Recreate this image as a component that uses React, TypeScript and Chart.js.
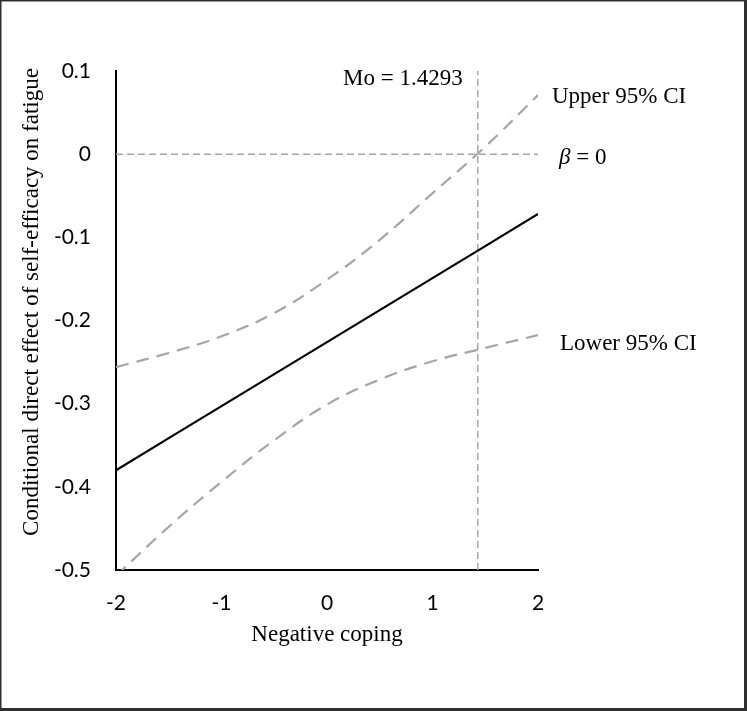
import React, { useEffect, useRef } from "react";
import { Chart, registerables } from "chart.js";

Chart.register(...registerables);

// ---- data ----
const X_VALUES = [-2, -1.5, -1, -0.5, 0, 0.5, 1, 1.5, 2];
const EFFECT = [-0.38, -0.3415, -0.303, -0.2645, -0.226, -0.1875, -0.149, -0.1105, -0.072];
const UPPER_CI = [-0.256, -0.239, -0.219, -0.191, -0.151, -0.103, -0.047, 0.009, 0.071];
const LOWER_CI = [-0.507, -0.448, -0.394, -0.344, -0.301, -0.271, -0.249, -0.233, -0.2175];
const MO = 1.4293;
const BETA_ZERO = 0;
const X_TICKS = [-2, -1, 0, 1, 2];
const Y_TICKS = [-0.5, -0.4, -0.3, -0.2, -0.1, 0, 0.1];
const X_MIN = -2;
const X_MAX = 2;
const Y_MIN = -0.5;
const Y_MAX = 0.1;

const X_TITLE = "Negative coping";
const Y_TITLE = "Conditional direct effect of self-efficacy on fatigue";
const MO_LABEL = "Mo = 1.4293";
const UPPER_LABEL = "Upper 95% CI";
const LOWER_LABEL = "Lower 95% CI";

const W = 747;
const H = 711;
const SERIF = '"Liberation Serif", "Times New Roman", serif';
const SANS = 'Lato, "Liberation Sans", sans-serif';
const GRAY = "#a6a6a6";

const pts = (ys: number[]) => X_VALUES.map((x, i) => ({ x, y: ys[i] }));

const annotate = {
  id: "annotate",
  afterDraw(chart: any) {
    const { ctx, chartArea, scales } = chart;
    const x = scales.x;
    const y = scales.y;
    ctx.save();
    ctx.fillStyle = "#000";
    ctx.textBaseline = "alphabetic";
    ctx.font = `23px ${SERIF}`;

    ctx.textAlign = "right";
    ctx.fillText(MO_LABEL, x.getPixelForValue(MO) - 15, y.getPixelForValue(Y_MAX) + 14);

    ctx.textAlign = "left";
    ctx.fillText(UPPER_LABEL, chartArea.right + 14, y.getPixelForValue(UPPER_CI[UPPER_CI.length - 1]) + 8);
    ctx.fillText(LOWER_LABEL, chartArea.right + 22, y.getPixelForValue(LOWER_CI[LOWER_CI.length - 1]) + 15);

    const bx = chartArea.right + 21;
    const by = y.getPixelForValue(BETA_ZERO) + 10;
    ctx.font = `italic 23px ${SERIF}`;
    ctx.fillText("β", bx, by);
    const bw = ctx.measureText("β").width;
    ctx.font = `23px ${SERIF}`;
    ctx.fillText(" = 0", bx + bw, by);

    // y-axis title
    ctx.save();
    ctx.translate(chartArea.left - 78.5, (chartArea.top + chartArea.bottom) / 2 - 18.5);
    ctx.rotate(-Math.PI / 2);
    ctx.textAlign = "center";
    ctx.fillText(Y_TITLE, 0, 0);
    ctx.restore();

    // outer frame
    ctx.fillStyle = "#2f2f2f";
    ctx.fillRect(0, 0, W, 1.5);
    ctx.fillRect(0, 0, 1.5, H);
    ctx.fillRect(W - 3, 0, 3, H);
    ctx.fillRect(0, H - 3, W, 3);
    ctx.restore();
  },
};

export default function App() {
  const ref = useRef<HTMLCanvasElement>(null);

  useEffect(() => {
    if (!ref.current) return;
    const chart = new Chart(ref.current, {
      type: "scatter",
      data: {
        datasets: [
          {
            label: "Effect",
            data: pts(EFFECT),
            showLine: true,
            borderColor: "#000",
            borderWidth: 2.2,
            pointRadius: 0,
          },
          {
            label: "Upper 95% CI",
            data: pts(UPPER_CI),
            showLine: true,
            borderColor: GRAY,
            borderWidth: 2.2,
            borderDash: [13, 8],
            tension: 0.4,
            pointRadius: 0,
          },
          {
            label: "Lower 95% CI",
            data: pts(LOWER_CI),
            showLine: true,
            borderColor: GRAY,
            borderWidth: 2.2,
            borderDash: [13, 8],
            tension: 0.4,
            pointRadius: 0,
          },
          {
            label: "beta = 0",
            data: [
              { x: X_MIN, y: BETA_ZERO },
              { x: X_MAX, y: BETA_ZERO },
            ],
            showLine: true,
            borderColor: GRAY,
            borderWidth: 1.5,
            borderDash: [7, 4],
            pointRadius: 0,
          },
          {
            label: "Mo",
            data: [
              { x: MO, y: Y_MIN },
              { x: MO, y: Y_MAX },
            ],
            showLine: true,
            borderColor: GRAY,
            borderWidth: 1.5,
            borderDash: [7, 4],
            pointRadius: 0,
          },
        ],
      },
      options: {
        animation: false,
        responsive: false,
        devicePixelRatio: 1,
        layout: { padding: { left: 0, top: 71, right: 209, bottom: 0 } },
        plugins: {
          legend: { display: false },
          tooltip: { enabled: false },
        },
        scales: {
          x: {
            type: "linear",
            min: X_MIN,
            max: X_MAX,
            grid: { display: false, drawTicks: false },
            border: { display: true, color: "#000", width: 2 },
            afterBuildTicks: (s: any) => {
              s.ticks = X_TICKS.map((v) => ({ value: v }));
            },
            afterFit: (s: any) => {
              s.height = 141;
            },
            ticks: {
              padding: 21,
              color: "#000",
              font: { family: SANS, size: 21 },
              callback: (v: any) => String(v),
            },
            title: {
              display: true,
              text: X_TITLE,
              color: "#000",
              font: { family: SERIF, size: 23 },
              padding: { top: 0, bottom: 62 },
            },
          },
          y: {
            type: "linear",
            min: Y_MIN,
            max: Y_MAX,
            grid: { display: false, drawTicks: false },
            border: { display: true, color: "#000", width: 2 },
            afterBuildTicks: (s: any) => {
              s.ticks = Y_TICKS.map((v) => ({ value: v }));
            },
            afterFit: (s: any) => {
              s.width = 116;
            },
            ticks: {
              padding: 25,
              color: "#000",
              font: { family: SANS, size: 21 },
              callback: (v: any) => String(Math.round(Number(v) * 10) / 10),
            },
            title: { display: false },
          },
        },
      },
      plugins: [annotate],
    } as any);
    return () => chart.destroy();
  }, []);

  return (
    <div style={{ position: "fixed", left: 0, top: 0, width: W, height: H, background: "#fff" }}>
      <canvas ref={ref} width={W} height={H} style={{ display: "block", width: W, height: H }} />
    </div>
  );
}
